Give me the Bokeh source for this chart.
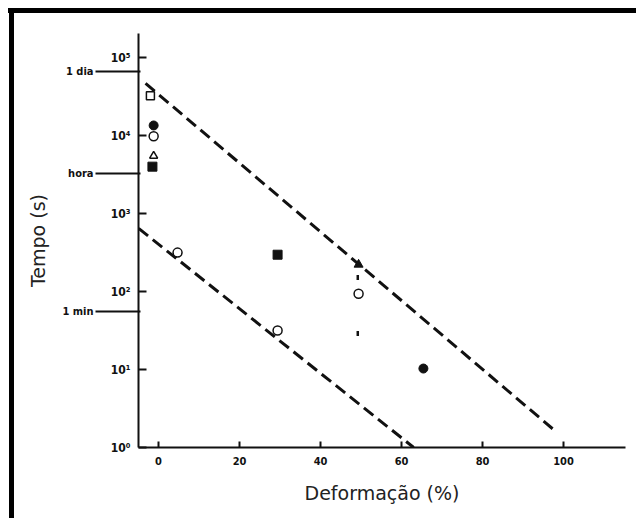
from bokeh.plotting import figure
from bokeh.models import FixedTicker, LogAxis, Range1d
from bokeh.embed import file_html
from bokeh.resources import INLINE

# ---- data ----
open_sq_x = [-2.0]
open_sq_y = [32500]
filled_circ_x = [-1.2, 65.4]
filled_circ_y = [13500, 10.3]
open_circ_x = [-1.2, 4.7, 29.4, 49.4]
open_circ_y = [9800, 316, 31.6, 94]
open_tri_x = [-1.2]
open_tri_y = [5500]
filled_sq_x = [-1.5, 29.4]
filled_sq_y = [4000, 297]
filled_tri_x = [49.4]
filled_tri_y = [222]
small_mark_x = [49.2, 49.2]
small_mark_y = [151, 29]

upper_line_x = [-3.2, 97.3]
upper_line_y = [46800, 1.74]
lower_line_x = [-4.9, 63.0]
lower_line_y = [646, 1.0]

x_ticks = [0, 20, 40, 60, 80, 100]
y_ticks = [1, 10, 100, 1000, 10000, 100000]
y_tick_labels = ["10⁰", "10¹", "10²", "10³", "10⁴", "10⁵"]
time_ticks = [56, 3300, 66000]
time_labels = ["1 min", "hora", "1 dia"]

TICK_FONT = "DejaVu Sans Condensed"
LABEL_FONT = "DejaVu Sans"
INK = "#111111"

p = figure(width=638, height=520, y_axis_type="log",
           x_range=Range1d(-4.94, 115.3), y_range=Range1d(1, 10 ** 5.31),
           output_backend="svg", toolbar_location=None,
           min_border_left=138, min_border_right=13,
           min_border_top=33, min_border_bottom=73)
# black rules along the top and left of the picture (page background)
p.styles = {
    "background-color": "white",
    "background-image": "linear-gradient(black, black), linear-gradient(black, black)",
    "background-size": "628px 5px, 5px 510px",
    "background-position": "8px 8px, 9px 8px",
    "background-repeat": "no-repeat",
}
p.border_fill_color = None
p.background_fill_color = "white"
p.outline_line_color = None
p.xgrid.visible = False
p.ygrid.visible = False

# x axis
xa = p.xaxis[0]
xa.ticker = FixedTicker(ticks=x_ticks)
xa.major_tick_in = 6
xa.major_tick_out = 0
xa.minor_tick_line_color = None
xa.axis_line_width = 2
xa.axis_line_color = INK
xa.major_tick_line_width = 2
xa.major_tick_line_color = INK
xa.major_label_standoff = 9
xa.major_label_text_font = TICK_FONT
xa.major_label_text_font_size = "11px"
xa.major_label_text_font_style = "bold"
xa.major_label_text_color = INK
xa.axis_label = "Deformação (%)"
xa.axis_label_text_font = LABEL_FONT
xa.axis_label_text_font_size = "19px"
xa.axis_label_text_font_style = "normal"
xa.axis_label_text_color = "#222222"
xa.axis_label_standoff = 14

# inner y axis: decades
ya = p.yaxis[0]
ya.ticker = FixedTicker(ticks=y_ticks, minor_ticks=[])
ya.major_label_overrides = {t: l for t, l in zip(y_ticks, y_tick_labels)}
ya.major_tick_in = 8
ya.major_tick_out = 0
ya.minor_tick_line_color = None
ya.axis_line_width = 2
ya.axis_line_color = INK
ya.major_tick_line_width = 2
ya.major_tick_line_color = INK
ya.major_label_standoff = 8
ya.major_label_text_font = TICK_FONT
ya.major_label_text_font_size = "12px"
ya.major_label_text_font_style = "bold"
ya.major_label_text_color = INK

# outer y axis: time marks
ta = LogAxis(ticker=FixedTicker(ticks=time_ticks, minor_ticks=[]))
ta.major_label_overrides = {t: l for t, l in zip(time_ticks, time_labels)}
ta.axis_line_color = None
ta.major_tick_in = 33
ta.major_tick_out = 12
ta.minor_tick_line_color = None
ta.major_tick_line_width = 2
ta.major_tick_line_color = INK
ta.major_label_standoff = 2
ta.major_label_text_font = TICK_FONT
ta.major_label_text_font_size = "11px"
ta.major_label_text_font_style = "bold"
ta.major_label_text_color = INK
ta.axis_label = "Tempo (s)"
ta.axis_label_text_font = LABEL_FONT
ta.axis_label_text_font_size = "19px"
ta.axis_label_text_font_style = "normal"
ta.axis_label_text_color = "#222222"
ta.axis_label_standoff = 10
p.add_layout(ta, "left")

# dashed lines
p.line(upper_line_x, upper_line_y, line_color=INK, line_width=3, line_dash="12 6")
p.line(lower_line_x, lower_line_y, line_color=INK, line_width=3, line_dash="12 6")

# markers
p.scatter(open_sq_x, open_sq_y, marker="square", size=8, fill_color="white",
          line_color=INK, line_width=1.5)
p.scatter(filled_circ_x, filled_circ_y, marker="circle", size=9, fill_color=INK,
          line_color=INK)
p.scatter(open_circ_x, open_circ_y, marker="circle", size=9, fill_color="white",
          line_color=INK, line_width=1.5)
p.scatter(open_tri_x, open_tri_y, marker="triangle", size=8, fill_color="white",
          line_color=INK, line_width=1.5)
p.scatter(filled_sq_x, filled_sq_y, marker="square", size=9, fill_color=INK,
          line_color=INK)
p.scatter(filled_tri_x, filled_tri_y, marker="triangle", size=9, fill_color=INK,
          line_color=INK)
p.scatter(small_mark_x, small_mark_y, marker="dash", size=5, angle=1.5708,
          line_color=INK, line_width=2.5)

open("out.html", "w").write(file_html(p, INLINE))
